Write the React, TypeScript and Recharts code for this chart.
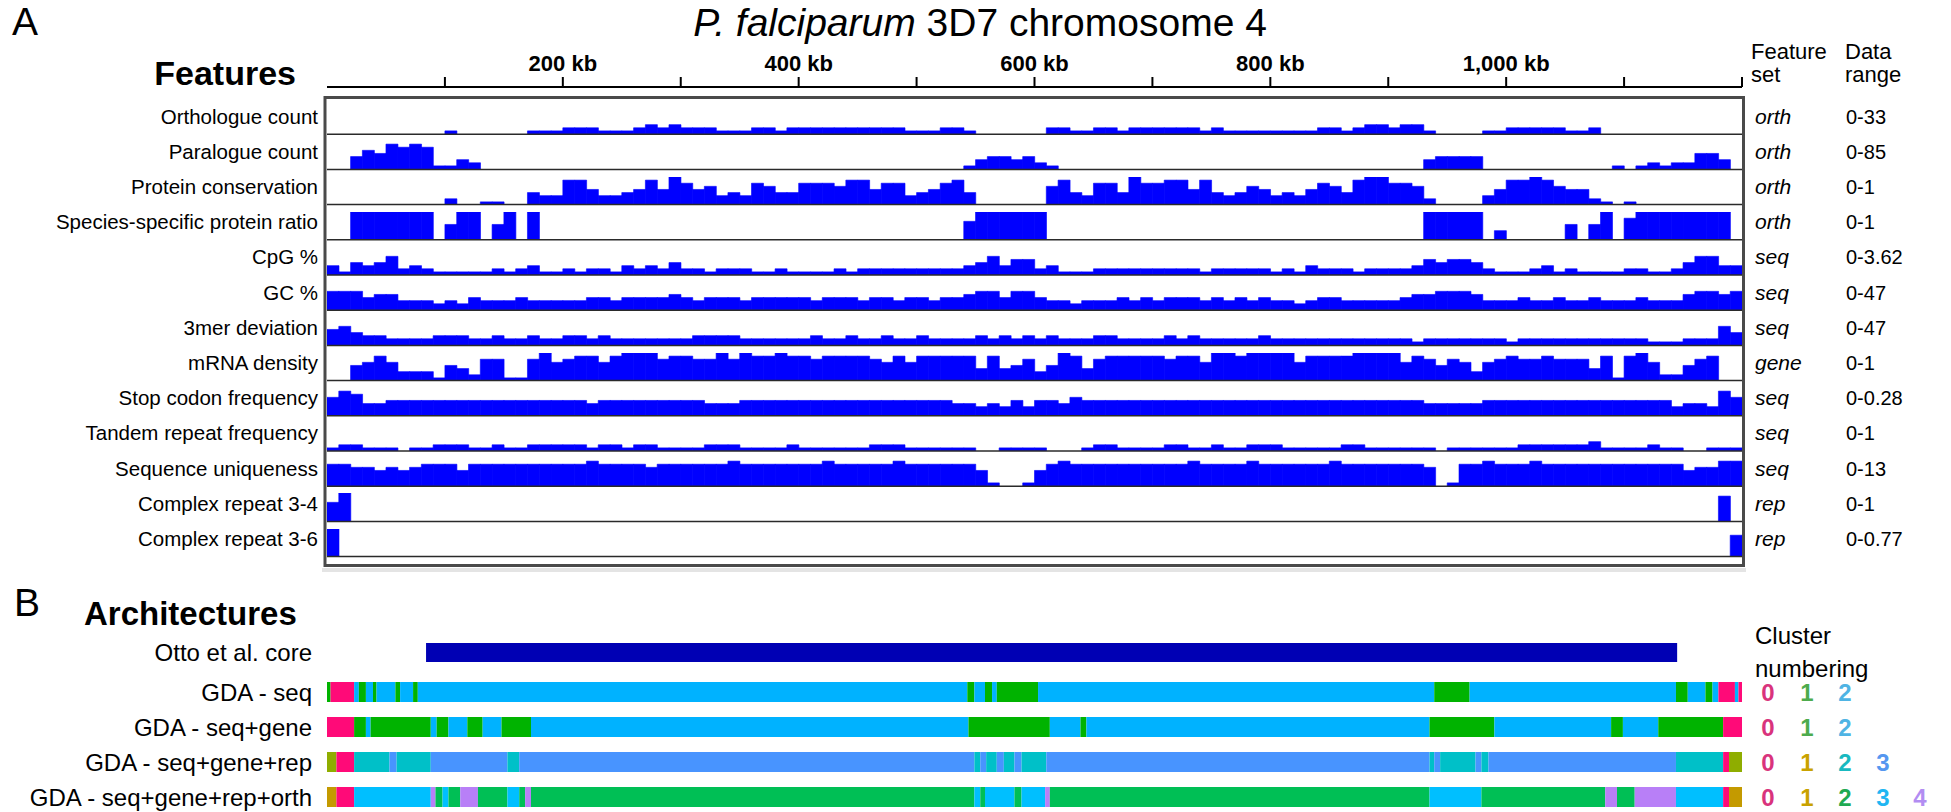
import React from "react";
import { BarChart, Bar, XAxis, YAxis, LineChart, Line } from "recharts";

// chromosome length and top axis
const CHROM_KB = 1200;
const AXIS_TICKS_KB = [100, 200, 300, 400, 500, 600, 700, 800, 900, 1000, 1100, 1200];
const AXIS_LABELLED_KB = [200, 400, 600, 800, 1000];

// feature tracks, 10 kb bins, level 0-9 of the track's data range (groups of 100 kb)
const ORTHOLOGUE_COUNT =
  "0000000000 1000000111 2221112323 2221112212 2222222221 1122100000 0221122122 2222121111 1111221233 2331000011 2222211200 0000000000";
const PARALOGUE_COUNT =
  "0046587871 1320000000 0000000000 0000000000 0000000000 0000134434 2100000000 0000000000 0000000000 0003444400 0000000001 0121225530";
const PROTEIN_CONSERVATION =
  "0000000000 2001100433 8853345859 7563437644 7776885773 4578400000 0684377497 7885843465 3435764899 7762000035 8898655210 1000000000";
const SPECIES_SPECIFIC_RATIO =
  "0099999990 5990590900 0000000000 0000000000 0000000000 0000699999 9000000000 0000000000 0000000000 0009999903 0000050590 7999999990";
const CPG_PERCENT =
  "3143462321 1111212311 2122132324 2212221121 1112122222 2222346355 2311122222 2222122222 1213222122 2235455421 1123121111 2211246633";
const GC_PERCENT =
  "6664553332 3243334333 3344344445 4344434444 4344434434 4344566466 4332333434 3444343434 3323443333 3455666533 3433433433 3433356656";
const KMER_DEVIATION =
  "5643322223 3322322322 3323222222 2333322222 2322322322 3222232323 2322233222 2323222223 2222222222 2212222222 1222222222 2211122264";
const MRNA_DENSITY =
  "0056863331 5427711796 7886899978 8779798898 8788887686 8888848457 3598478888 8788699899 9968888999 9687576367 8778777481 8962257800";
const STOP_CODON_FREQ =
  "6874455555 5555555555 5545555555 5544455555 5555555555 5554434353 5546555555 5555555555 5555555555 5554444455 5555555555 5555344386";
const TANDEM_REPEAT_FREQ =
  "1221110112 2211211222 2212212211 1122211112 1111112221 1111100111 1000122111 1221121122 2111112211 1111011111 1222222311 1121100111";
const SEQ_UNIQUENESS =
  "7766565677 7577777777 7787777677 7777877777 7787777787 7777751001 5787777777 7778777787 7777787777 7776017787 7787777777 7777756688";
const COMPLEX_REPEAT_34 =
  "6900000000 0000000000 0000000000 0000000000 0000000000 0000000000 0000000000 0000000000 0000000000 0000000000 0000000000 0000000080";
const COMPLEX_REPEAT_36 =
  "9000000000 0000000000 0000000000 0000000000 0000000000 0000000000 0000000000 0000000000 0000000000 0000000000 0000000000 0000000007";

const FEATURE_LABELS = [
  "Orthologue count",
  "Paralogue count",
  "Protein conservation",
  "Species-specific protein ratio",
  "CpG %",
  "GC %",
  "3mer deviation",
  "mRNA density",
  "Stop codon frequency",
  "Tandem repeat frequency",
  "Sequence uniqueness",
  "Complex repeat 3-4",
  "Complex repeat 3-6",
];
const FEATURE_SETS = ["orth", "orth", "orth", "orth", "seq", "seq", "seq", "gene", "seq", "seq", "seq", "rep", "rep"];
const DATA_RANGES = ["0-33", "0-85", "0-1", "0-1", "0-3.62", "0-47", "0-47", "0-1", "0-0.28", "0-1", "0-13", "0-1", "0-0.77"];
const RANGE_MAX = [33, 85, 1, 1, 3.62, 47, 47, 1, 0.28, 1, 13, 1, 0.77];
const FEATURE_LEVELS = [
  ORTHOLOGUE_COUNT,
  PARALOGUE_COUNT,
  PROTEIN_CONSERVATION,
  SPECIES_SPECIFIC_RATIO,
  CPG_PERCENT,
  GC_PERCENT,
  KMER_DEVIATION,
  MRNA_DENSITY,
  STOP_CODON_FREQ,
  TANDEM_REPEAT_FREQ,
  SEQ_UNIQUENESS,
  COMPLEX_REPEAT_34,
  COMPLEX_REPEAT_36,
];

// architectures: runs of [cluster, end kb]
const OTTO_CORE_KB: [number, number] = [84, 1145];
const GDA_SEQ_RUNS: [number, number][] = [
  [1, 3], [0, 23], [2, 27], [1, 33], [2, 39], [1, 42], [2, 58], [1, 62], [2, 73], [1, 77],
  [2, 543], [1, 549], [2, 558], [1, 564], [2, 568], [1, 603], [2, 939], [1, 969], [2, 1144],
  [1, 1154], [2, 1169], [1, 1175], [2, 1180], [0, 1194], [2, 1197], [0, 1200],
];
const GDA_GENE_RUNS: [number, number][] = [
  [0, 23], [1, 33], [2, 37], [1, 88], [2, 93], [1, 103], [2, 119], [1, 132], [2, 148], [1, 173],
  [2, 544], [1, 613], [2, 639], [1, 644], [2, 935], [1, 990], [2, 1089], [1, 1099], [2, 1129],
  [1, 1184], [0, 1200],
];
const GDA_REP_RUNS: [number, number][] = [
  [1, 8], [0, 23], [2, 53], [3, 59], [2, 88], [3, 153], [2, 163], [3, 549], [2, 554], [3, 559],
  [2, 568], [3, 574], [2, 583], [3, 589], [2, 610], [3, 935], [2, 939], [3, 944], [2, 974],
  [3, 979], [2, 985], [3, 1144], [2, 1184], [0, 1189], [1, 1200],
];
const GDA_ORTH_RUNS: [number, number][] = [
  [1, 8], [0, 23], [3, 88], [4, 92], [2, 98], [3, 103], [2, 113], [4, 128], [2, 153], [3, 163],
  [2, 168], [4, 173], [2, 549], [3, 554], [2, 558], [3, 583], [2, 589], [3, 609], [4, 613],
  [2, 935], [3, 979], [2, 1084], [4, 1094], [2, 1109], [4, 1144], [3, 1184], [0, 1189], [1, 1200],
];

const ARCH_LABELS = ["GDA - seq", "GDA - seq+gene", "GDA - seq+gene+rep", "GDA - seq+gene+rep+orth"];
const ARCH_RUNS = [GDA_SEQ_RUNS, GDA_GENE_RUNS, GDA_REP_RUNS, GDA_ORTH_RUNS];
const ARCH_COLORS = [
  ["#ff0a78", "#00b300", "#00b2ff"],
  ["#ff0a78", "#00b300", "#00b2ff"],
  ["#ff0a78", "#8fad00", "#00c0c8", "#4894ff"],
  ["#ff0a78", "#c49a00", "#00bf55", "#00bfff", "#b87ff7"],
];
const CLUSTER_NUM_COLORS = [
  ["#d9337c", "#4dab4d", "#4fb4e4"],
  ["#d9337c", "#4dab4d", "#4fb4e4"],
  ["#d9337c", "#c9a200", "#19b9c0", "#5597f0"],
  ["#d9337c", "#c9a200", "#1faa52", "#1fb6f2", "#b28df2"],
];
const CLUSTER_NUM_X = [1768, 1807, 1845, 1883, 1920];

// layout
const FONT = "'Liberation Sans', Arial, Helvetica, sans-serif";
const PLOT_X = 327;
const PLOT_W = 1415;
const ROW_Y0 = 99;
const ROW_H = 35.2;
const BAR_MAX_H = 28;
const BAR_BLUE = "#0000ff";
const OTTO_TOP = 643;
const ARCH_TOP0 = 682;
const ARCH_PITCH = 35;
const ARCH_H = 20;

const parseLevels = (s: string) => s.replace(/\s+/g, "").split("").map(Number);

function TrackRow({ levels, max, top }: { levels: string; max: number; top: number }) {
  const data = parseLevels(levels).map((lv, i) => ({ bin: i, v: (lv / 9) * max }));
  return (
    <div style={{ position: "absolute", left: PLOT_X, top }}>
      <BarChart
        width={PLOT_W}
        height={BAR_MAX_H}
        data={data}
        margin={{ top: 0, right: 0, bottom: 0, left: 0 }}
        barCategoryGap={0}
        barGap={0}
      >
        <XAxis dataKey="bin" hide />
        <YAxis hide domain={[0, max]} allowDataOverflow />
        <Bar dataKey="v" fill={BAR_BLUE} stroke={BAR_BLUE} strokeWidth={0.6} isAnimationActive={false} />
      </BarChart>
    </div>
  );
}

function ArchRow({ runs, colors, top }: { runs: [number, number][]; colors: string[]; top: number }) {
  const row: Record<string, number | string> = { name: "row" };
  let prev = 0;
  runs.forEach(([, end], i) => {
    row[`s${i}`] = end - prev;
    prev = end;
  });
  return (
    <div style={{ position: "absolute", left: PLOT_X, top }}>
      <BarChart
        layout="vertical"
        width={PLOT_W}
        height={ARCH_H}
        data={[row]}
        margin={{ top: 0, right: 0, bottom: 0, left: 0 }}
        barCategoryGap={0}
      >
        <XAxis type="number" domain={[0, CHROM_KB]} allowDataOverflow hide />
        <YAxis type="category" dataKey="name" hide />
        {runs.map(([c], i) => (
          <Bar key={i} dataKey={`s${i}`} stackId="a" fill={colors[c]} isAnimationActive={false} />
        ))}
      </BarChart>
    </div>
  );
}

function KbTick(props: any) {
  const { x, y, payload } = props;
  if (!AXIS_LABELLED_KB.includes(payload.value)) return null;
  return (
    <text x={x} y={y} textAnchor="middle" fontSize={22} fontWeight="bold" fill="#000" fontFamily={FONT}>
      {`${payload.value.toLocaleString("en-US")} kb`}
    </text>
  );
}

export default function App() {
  const axisData = AXIS_TICKS_KB.map((kb) => ({ kb, y: 0 }));
  return (
    <div style={{ position: "relative", width: 1951, height: 812, background: "#fff", fontFamily: FONT }}>
      <style>{"body{margin:0}"}</style>

      {/* top kb axis */}
      <div style={{ position: "absolute", left: PLOT_X - 6, top: 30 }}>
        <LineChart width={PLOT_W + 12} height={60} data={axisData} margin={{ top: 7, right: 6, bottom: 0, left: 6 }}>
          <XAxis
            type="number"
            dataKey="kb"
            domain={[0, CHROM_KB]}
            allowDataOverflow
            ticks={AXIS_TICKS_KB}
            interval={0}
            orientation="top"
            height={50}
            tickSize={10}
            tickMargin={6}
            axisLine={{ stroke: "#000", strokeWidth: 2 }}
            tickLine={{ stroke: "#000", strokeWidth: 2 }}
            tick={<KbTick />}
          />
          <YAxis hide domain={[0, 1]} />
          <Line dataKey="y" stroke="none" dot={false} isAnimationActive={false} />
        </LineChart>
      </div>

      {FEATURE_LEVELS.map((lv, k) => (
        <TrackRow key={k} levels={lv} max={RANGE_MAX[k]} top={ROW_Y0 + k * ROW_H + (ROW_H - BAR_MAX_H)} />
      ))}

      {/* Otto et al. core */}
      <div style={{ position: "absolute", left: PLOT_X, top: OTTO_TOP }}>
        <BarChart
          layout="vertical"
          width={PLOT_W}
          height={19}
          data={[{ name: "otto", core: OTTO_CORE_KB }]}
          margin={{ top: 0, right: 0, bottom: 0, left: 0 }}
          barCategoryGap={0}
        >
          <XAxis type="number" domain={[0, CHROM_KB]} allowDataOverflow hide />
          <YAxis type="category" dataKey="name" hide />
          <Bar dataKey="core" fill="#0000b4" isAnimationActive={false} />
        </BarChart>
      </div>

      {ARCH_RUNS.map((runs, i) => (
        <ArchRow key={i} runs={runs} colors={ARCH_COLORS[i]} top={ARCH_TOP0 + i * ARCH_PITCH} />
      ))}

      <svg width={1951} height={812} style={{ position: "absolute", left: 0, top: 0 }} fontFamily={FONT}>
        <text x={12} y={35} fontSize={39}>A</text>
        <text x={980} y={36} fontSize={39} textAnchor="middle">
          <tspan fontStyle="italic">P. falciparum</tspan> 3D7 chromosome 4
        </text>
        <text x={296} y={85} fontSize={34} fontWeight="bold" textAnchor="end">Features</text>
        <text x={1751} y={59} fontSize={22}>Feature</text>
        <text x={1751} y={82} fontSize={22}>set</text>
        <text x={1845} y={59} fontSize={22}>Data</text>
        <text x={1845} y={82} fontSize={22}>range</text>

        {/* features frame and row baselines */}
        <line x1={322} y1={570} x2={1746} y2={570} stroke="#e4e4e4" strokeWidth={4} />
        {FEATURE_LABELS.map((_, k) => (
          <line
            key={k}
            x1={PLOT_X}
            x2={PLOT_X + PLOT_W}
            y1={ROW_Y0 + (k + 1) * ROW_H}
            y2={ROW_Y0 + (k + 1) * ROW_H}
            stroke="#2a2a2a"
            strokeWidth={1.5}
          />
        ))}
        <rect x={325} y={97.5} width={1418.5} height={468} fill="none" stroke="#4a4a4a" strokeWidth={3} />

        {FEATURE_LABELS.map((label, k) => {
          const y = ROW_Y0 + k * ROW_H + ROW_H / 2 + 7;
          return (
            <g key={k}>
              <text x={318} y={y} fontSize={20.5} textAnchor="end">{label}</text>
              <text x={1755} y={y} fontSize={21} fontStyle="italic">{FEATURE_SETS[k]}</text>
              <text x={1846} y={y} fontSize={20}>{DATA_RANGES[k]}</text>
            </g>
          );
        })}

        <text x={14} y={616} fontSize={39}>B</text>
        <text x={84} y={625} fontSize={33} fontWeight="bold">Architectures</text>
        <text x={1755} y={644} fontSize={24}>Cluster</text>
        <text x={1755} y={677} fontSize={24}>numbering</text>

        <text x={312} y={OTTO_TOP + 9.5 + 8.5} fontSize={24} textAnchor="end">Otto et al. core</text>
        {ARCH_LABELS.map((label, i) => {
          const y = ARCH_TOP0 + i * ARCH_PITCH + ARCH_H / 2 + 8.5;
          return (
            <g key={i}>
              <text x={312} y={y} fontSize={24} textAnchor="end">{label}</text>
              {CLUSTER_NUM_COLORS[i].map((c, n) => (
                <text key={n} x={CLUSTER_NUM_X[n]} y={y} fontSize={24} fontWeight="bold" fill={c} textAnchor="middle">
                  {n}
                </text>
              ))}
            </g>
          );
        })}
      </svg>
    </div>
  );
}
